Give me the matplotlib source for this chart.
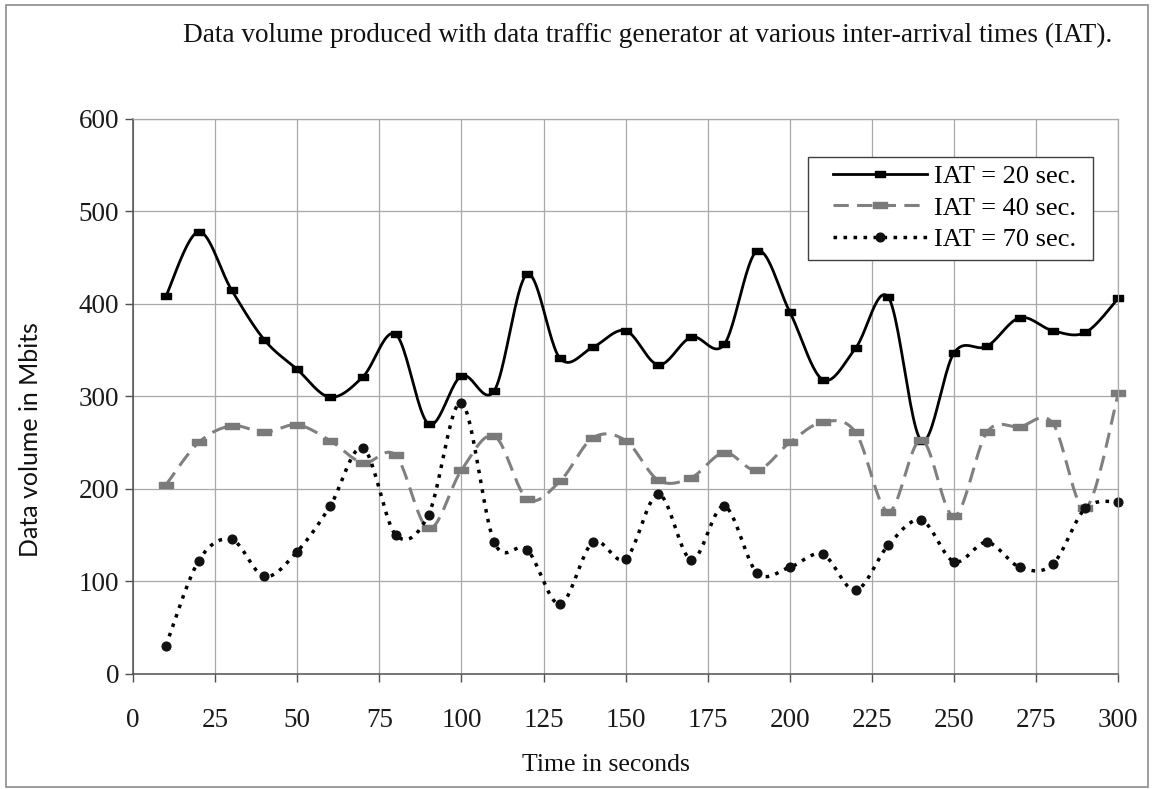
import numpy as np
import matplotlib
matplotlib.use("Agg")
import matplotlib.pyplot as plt
from matplotlib.path import Path
from matplotlib.patches import Rectangle

plt.rcParams["font.family"] = ["Liberation Serif", "DejaVu Serif"]
plt.rcParams["lines.scale_dashes"] = False

# Sampling times (s) and data volume (Mbits) for each inter-arrival time
time_s = [10, 20, 30, 40, 50, 60, 70, 80, 90, 100,
          110, 120, 130, 140, 150, 160, 170, 180, 190, 200,
          210, 220, 230, 240, 250, 260, 270, 280, 290, 300]
iat_20 = [408, 478, 415, 361, 329, 299, 321, 367, 270, 322,
          306, 432, 341, 353, 371, 334, 364, 356, 457, 391,
          318, 352, 407, 252, 347, 354, 385, 371, 369, 406]
iat_40 = [204, 250, 268, 261, 269, 252, 228, 236, 157, 220,
          257, 189, 208, 255, 252, 209, 212, 239, 220, 250,
          272, 261, 175, 253, 170, 261, 267, 271, 179, 303]
iat_70 = [30, 122, 145, 105, 132, 181, 244, 150, 172, 293,
          142, 134, 75, 142, 124, 194, 123, 181, 109, 115,
          129, 90, 139, 166, 121, 142, 115, 118, 179, 186]
series_labels = ["IAT = 20 sec.", "IAT = 40 sec.", "IAT = 70 sec."]
x_ticks = list(range(0, 301, 25))
y_ticks = list(range(0, 601, 100))

STEPS = 24
W, H = 1154, 789


def smooth_curve(x, y, steps=STEPS):
    """Bezier smoothing through every point (Catmull-Rom style control points)."""
    p = np.column_stack([x, y]).astype(float)
    ext = np.vstack([p[0], p, p[-1]])
    t = np.linspace(0, 1, steps, endpoint=False)[:, None]
    parts = []
    for i in range(len(p) - 1):
        p0, p1, p2, p3 = ext[i], ext[i + 1], ext[i + 2], ext[i + 3]
        c1 = p1 + (p2 - p0) / 6.0
        c2 = p2 - (p3 - p1) / 6.0
        seg = ((1 - t) ** 3) * p1 + 3 * ((1 - t) ** 2) * t * c1 \
            + 3 * (1 - t) * (t ** 2) * c2 + (t ** 3) * p2
        parts.append(seg)
    parts.append(p[-1:])
    curve = np.vstack(parts)
    return curve[:, 0], curve[:, 1], list(range(0, len(curve), steps))


def rect_marker(aspect):
    verts = [(-1, -aspect), (1, -aspect), (1, aspect), (-1, aspect), (-1, -aspect)]
    codes = [Path.MOVETO, Path.LINETO, Path.LINETO, Path.LINETO, Path.CLOSEPOLY]
    return Path(verts, codes)


def fx(px):
    return px / W


def fy(py):
    return 1 - py / H


fig = plt.figure(figsize=(W / 100, H / 100), dpi=100)
fig.patch.set_facecolor("white")
ax = fig.add_axes([fx(133), fy(673.5), fx(1118.3) - fx(133), fy(119) - fy(673.5)])

grid_c = "#a8a8a8"
ax.set_xlim(0, 300)
ax.set_ylim(0, 600)
ax.set_xticks(x_ticks)
ax.set_yticks(y_ticks)
ax.grid(True, color=grid_c, linewidth=0.9)
ax.set_axisbelow(True)
for side in ("top", "right"):
    ax.spines[side].set_color(grid_c)
    ax.spines[side].set_linewidth(0.9)
for side in ("left", "bottom"):
    ax.spines[side].set_color("#505050")
    ax.spines[side].set_linewidth(1.1)
ax.tick_params(axis="both", direction="out", length=6, width=1.0,
               color="#505050", labelsize=19.5, labelcolor="#1a1a1a")
ax.tick_params(axis="x", pad=19)
ax.tick_params(axis="y", pad=4)

styles = [
    dict(color="black", linewidth=2.0, linestyle="-",
         marker=rect_marker(0.55), markersize=7.5, markerfacecolor="black",
         markeredgecolor="black"),
    dict(color="#808080", linewidth=2.2, linestyle=(0, (11, 6)),
         marker=rect_marker(0.42), markersize=10.5, markerfacecolor="#7a7a7a",
         markeredgecolor="#7a7a7a", dash_capstyle="butt"),
    dict(color="black", linewidth=2.5, linestyle=(0, (2.6, 4.6)),
         marker="o", markersize=6.3, markerfacecolor="#111111",
         markeredgecolor="#111111", dash_capstyle="butt"),
]

handles = []
for values, label, st in zip([iat_20, iat_40, iat_70], series_labels, styles):
    cx, cy, marks = smooth_curve(time_s, values)
    line, = ax.plot(cx, cy, markevery=marks, label=label, clip_on=False, **st)
    handles.append(line)

# Legend box and entries
fig.patches.append(Rectangle((fx(808), fy(260)), fx(1093) - fx(808), fy(157) - fy(260),
                             transform=fig.transFigure, facecolor="white",
                             edgecolor="#404040", linewidth=1.0, zorder=4))
leg = fig.legend(handles=handles, loc="center left",
                 bbox_to_anchor=(fx(833), fy(208)), bbox_transform=fig.transFigure,
                 fontsize=19, frameon=False, handlelength=3.56, handletextpad=0.25,
                 labelspacing=0.3, borderpad=0, borderaxespad=0, numpoints=1)
leg.set_zorder(5)

fig.text(fx(648), fy(35),
         "Data volume produced with data traffic generator at various inter-arrival times (IAT).",
         ha="center", va="center", fontsize=19.6, color="#111111")
fig.text(fx(606), fy(765), "Time in seconds", ha="center", va="center",
         fontsize=18.5, color="#111111")
fig.text(fx(31), fy(440), "Data volume in Mbits", ha="center", va="center",
         rotation=90, fontsize=18, color="#111111", family=["Lato", "DejaVu Sans"])

# Chart-area border around the whole figure
fig.patches.append(Rectangle((fx(6), fy(787)), fx(1148) - fx(6), fy(5) - fy(787),
                             transform=fig.transFigure, fill=False,
                             edgecolor="#8c8c8c", linewidth=1.2))

fig.savefig("out.png", dpi=100, facecolor="white")
